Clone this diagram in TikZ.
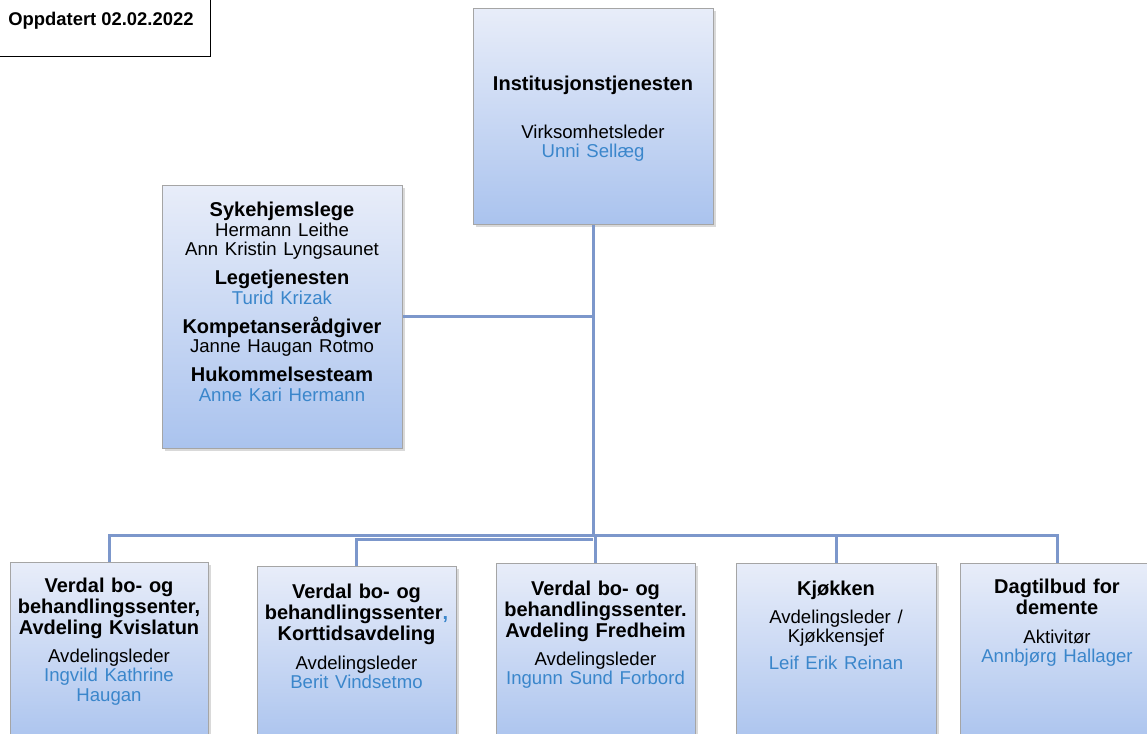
\documentclass[tikz,border=0pt]{standalone}
\usepackage{fontspec}
\setmainfont{Liberation Sans}
\usetikzlibrary{shadows}
\definecolor{boxtop}{RGB}{232,237,249}
\definecolor{boxbot}{RGB}{170,195,238}
\definecolor{linkcol}{RGB}{124,151,203}
\definecolor{namecol}{RGB}{58,134,203}
\definecolor{framecol}{RGB}{165,165,165}
\newcommand{\ttl}{\fontsize{10}{10.5}\selectfont\bfseries}
\newcommand{\bdy}{\fontsize{9.3}{9.75}\selectfont}
\newcommand{\who}[1]{{\color{namecol}#1\par}}
\tikzset{
    unit/.style={draw=framecol, line width=0.5pt, top color=boxtop, bottom color=boxbot,
        inner sep=0pt, drop shadow={shadow xshift=1.5pt, shadow yshift=-1.5pt, opacity=0.3}},
    txt/.style={anchor=north, inner sep=0pt, align=center},
    link/.style={draw=linkcol, line width=1.5pt},
}
\begin{document}
\begin{tikzpicture}[x=0.5pt,y=-0.5pt]
                \useasboundingbox (0,0) rectangle (1147,734);
                %% Date stamp
                \node[draw, line width=0.6pt, minimum width=106pt, minimum height=29pt, inner sep=0pt, anchor=south east] (stamp) at (211,57) {};
                \node[anchor=north west, inner sep=0pt, font=\fontsize{9.2}{11}\selectfont\bfseries] (date) at (8,11.5) {Oppdatert 02.02.2022};
                %% Boxes
                \node[unit, minimum width=120pt, minimum height=108pt] (head) at (593,116) {};
                \node[txt, text width=118pt] (headtxt) at (593,76) {{\ttl Institusjonstjenesten\par}\vspace{14pt}{\bdy Virksomhetsleder\par\who{Unni Sellæg}}};
                \node[unit, minimum width=120pt, minimum height=131.5pt] (staff) at (282,316.5) {};
                \node[txt, text width=118pt] (stafftxt) at (282,202) {{\ttl Sykehjemslege\par}{\bdy Hermann Leithe\par Ann Kristin Lyngsaunet\par}\vspace{4pt}%
                    {\ttl Legetjenesten\par}{\bdy\who{Turid Krizak}}\vspace{4pt}%
                    {\ttl Kompetanserådgiver\par}{\bdy Janne Haugan Rotmo\par}\vspace{4pt}%
                    {\ttl Hukommelsesteam\par}{\bdy\who{Anne Kari Hermann}}};
                \node[unit, minimum width=99pt, minimum height=92pt] (b1) at (109,654) {};
                \node[txt, text width=96pt] (b1txt) at (109,578) {{\ttl Verdal bo- og\par behandlingssenter,\par Avdeling Kvislatun\par}\vspace{4pt}{\bdy Avdelingsleder\par\who{Ingvild Kathrine\par Haugan}}};
                \node[unit, minimum width=99.5pt, minimum height=90pt] (b2) at (356.5,656) {};
                \node[txt, text width=96pt] (b2txt) at (356.5,584) {{\ttl Verdal bo- og\par behandlingssenter{\color{namecol},}\par Korttidsavdeling\par}\vspace{4.5pt}{\bdy Avdelingsleder\par\who{Berit Vindsetmo}}};
                \node[unit, minimum width=99.5pt, minimum height=91.5pt] (b3) at (595.5,654.5) {};
                \node[txt, text width=96pt] (b3txt) at (595.5,581) {{\ttl Verdal bo- og\par behandlingssenter.\par Avdeling Fredheim\par}\vspace{4pt}{\bdy Avdelingsleder\par\who{Ingunn Sund Forbord}}};
                \node[unit, minimum width=100pt, minimum height=91.5pt] (b4) at (836,654.5) {};
                \node[txt, text width=96pt] (b4txt) at (836,581) {{\ttl Kjøkken\par}\vspace{4pt}{\bdy Avdelingsleder /\par Kjøkkensjef\par}\vspace{3.75pt}{\bdy\who{Leif Erik Reinan}}};
                \node[unit, minimum width=97pt, minimum height=91.5pt] (b5) at (1057,654.5) {};
                \node[txt, text width=94pt] (b5txt) at (1057,579) {{\ttl Dagtilbud for\par demente\par}\vspace{4.5pt}{\bdy Aktivitør\par\who{Annbjørg Hallager}}};
                %% Lines
                \coordinate (bus) at (593,535);
                \coordinate (bus2) at (593,539);
                \draw[link] (head.south) -- (bus);
                \draw[link] (staff.east) -- (staff.east -| head.south);
                \draw[link] (bus2) -| (b2.north);
                \foreach \b in {b1,b3,b4,b5}
                    \draw[link] (bus) -| (\b.north);
            \end{tikzpicture}
\end{document}
